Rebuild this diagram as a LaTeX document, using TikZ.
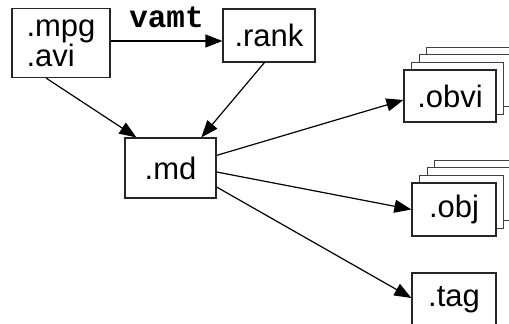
\documentclass[tikz,border=0pt]{standalone}
\usepackage{fontspec}
\setmainfont{Liberation Sans}
\setmonofont{Liberation Mono}
\usetikzlibrary{arrows.meta,calc}
\begin{document}
\begin{tikzpicture}[x=1pt,y=-1pt,
  filebox/.style={draw=black!85,line width=1.2pt,fill=white,inner sep=0pt,
    font=\fontsize{31}{30}\selectfont,align=left},
  backbox/.style={draw=black!75,line width=1.1pt,fill=white},
  conn/.style={line width=1.2pt,-{Triangle[length=17pt,width=13pt]}}]
\useasboundingbox (0,0) rectangle (509,324);
\clip (0,0) rectangle (509,324);
% stacked back boxes for .obvi
\foreach \k in {3,2,1}{
  \draw[backbox] ({404+7.6*\k},{70-7.6*\k}) rectangle ({496+7.6*\k},{122-7.6*\k});
}
% stacked back boxes for .obj
\foreach \k in {3,2,1}{
  \draw[backbox] ({412+7.6*\k},{183-7.6*\k}) rectangle ({496+7.6*\k},{236-7.6*\k});
}
\node[filebox,minimum width=98pt,minimum height=69pt] (mpg) at (61,43) {.mpg\\.avi};
\node[filebox,minimum width=92pt,minimum height=53pt] (rank) at (269,35.5) {.rank};
\node[filebox,minimum width=91pt,minimum height=60pt] (md) at (170.5,168) {.md};
\node[filebox,minimum width=92pt,minimum height=52pt] (obvi) at (450,96) {.obvi};
\node[filebox,minimum width=84pt,minimum height=53pt] (obj) at (454,209.5) {.obj};
\node[filebox,minimum width=84pt,minimum height=53pt] (tag) at (454,299.5) {.tag};
\draw[conn] ([yshift=2pt]mpg.east) -- node[above=10pt,inner sep=3pt,font=\fontsize{31}{31}\selectfont\ttfamily\bfseries]{vamt} ([yshift=-5.5pt]rank.west);
\draw[conn] ([xshift=34.7pt]mpg.south west) -- ([xshift=12pt]md.north west);
\draw[conn] ([xshift=42pt]rank.south west) -- ([xshift=77pt]md.north west);
\draw[conn] ([yshift=-18pt]md.north east) -- ([yshift=-4pt]obvi.west);
\draw[conn] ([yshift=-4pt]md.east) -- (obj.west);
\draw[conn] ([yshift=-19pt]md.east) -- ([yshift=1.5pt]tag.west);
\end{tikzpicture}
\end{document}
